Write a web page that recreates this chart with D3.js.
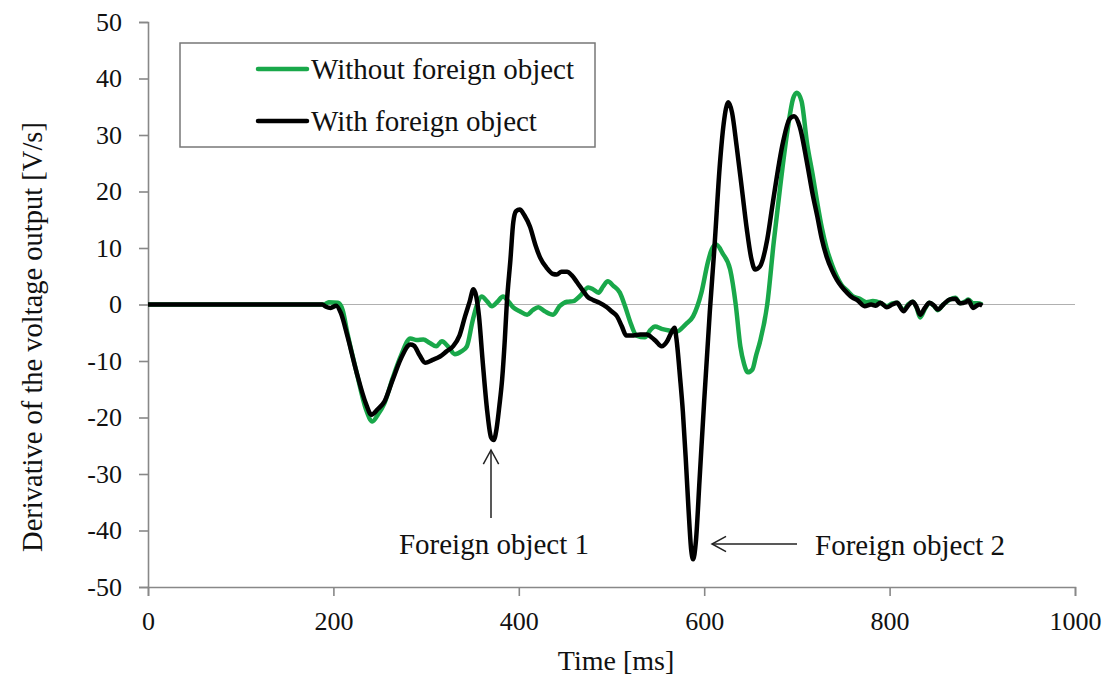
<!DOCTYPE html>
<html>
<head>
<meta charset="utf-8">
<script src="https://cdn.jsdelivr.net/npm/d3@7"></script>
<style>
  body { margin: 0; background: #fff; }
  text { font-family: "Liberation Serif", "Times New Roman", serif; fill: #111; }
</style>
</head>
<body>
<div id="chart"></div>
<script>
// time [ms] and derivative [V/s]
var withoutT = [0, 190, 195, 205, 210, 215, 225, 235, 242, 248, 255, 264, 273, 283, 290, 297, 304, 311, 317, 324, 331, 338, 344, 350, 355, 360, 366, 371, 377, 383, 389, 394, 401, 409, 415, 421, 428, 437, 444, 452, 459, 466, 475, 480, 486, 491, 496, 502, 509, 515, 520, 527, 536, 542, 547, 554, 562, 570, 580, 588, 597, 604, 608, 613, 620, 628, 634, 639, 643, 647, 652, 656, 660, 668, 675, 682, 690, 696, 700, 705, 711, 717, 722, 727, 732, 738, 743, 748, 754, 760, 768, 775, 782, 790, 797, 803, 808, 815, 820, 825, 829, 833, 838, 843, 848, 852, 858, 865, 871, 876, 882, 885, 890, 895, 900];
var withoutV = [0, 0, 0.4, 0.3, -1, -5, -12, -18.5, -20.7, -19.5, -17.5, -13, -9, -6, -6.3, -6.2, -6.8, -7.4, -6.5, -7.5, -8.8, -8.3, -7.4, -3, 0, 1.4, 0.5, -0.3, 0.5, 1.4, 0.5, -0.5, -1.2, -1.8, -1, -0.5, -1.2, -1.8, -0.3, 0.5, 0.6, 1.5, 3.0, 2.7, 2.1, 3.2, 4.1, 3.3, 2.1, -0.5, -3, -5.5, -5.8, -4.5, -3.9, -4.3, -4.6, -4.8, -3.5, -2.1, 2.1, 7.5, 9.7, 10.6, 9, 6.2, 0, -7.4, -10.5, -12, -11.5, -9, -6.7, 0, 11, 20.9, 31, 36.5, 37.5, 36, 28.5, 23, 18, 13.5, 10, 7, 5, 3.5, 2.5, 1.5, 1, 0.4, 0.6, 0.3, -0.3, 0.2, 0.3, -1, 0, 0.5, -0.5, -2.3, -0.8, 0.3, -0.3, -1, 0, 0.9, 1.2, 0.2, 0.6, 0.9, 0.2, 0.2, 0];

var withT = [0, 188, 192, 197, 203, 208, 215, 225, 235, 241, 248, 255, 264, 273, 283, 287, 293, 299, 307, 315, 322, 329, 336, 342, 347, 351, 354, 357, 361, 366, 370, 373, 376, 379, 382, 385, 387, 391, 394, 397, 401, 406, 412, 418, 423, 430, 437, 441, 446, 452, 457, 463, 469, 474, 480, 487, 495, 500, 506, 511, 516, 522, 531, 538, 543, 548, 554, 560, 565, 568, 570, 574, 577, 580, 583, 586, 588, 591, 595, 600, 606, 611, 617, 621, 626, 630, 635, 641, 646, 651, 655, 660, 668, 674, 685, 692, 697, 703, 711, 717, 722, 727, 732, 738, 743, 748, 754, 760, 765, 773, 780, 785, 790, 797, 803, 808, 815, 820, 825, 829, 833, 838, 843, 848, 852, 858, 865, 871, 876, 882, 885, 890, 894, 897, 900];
var withV = [0, 0, -0.4, -0.6, -0.2, -1.5, -5.5, -12, -17.5, -19.5, -18.5, -17.2, -13.3, -9.5, -7.1, -7.3, -9, -10.3, -9.8, -9.2, -8.3, -7.4, -5.5, -2.1, 0.5, 2.7, 1.5, -2, -10, -19, -23.5, -24, -22, -18, -13.3, -6, 0, 8, 14.5, 16.5, 16.8, 15.8, 13.8, 10.5, 8.3, 6.5, 5.4, 5.3, 5.8, 5.8, 5.2, 3.9, 2.5, 1.4, 0.8, 0.3, -0.5, -1.2, -2.1, -3.8, -5.5, -5.5, -5.3, -5.3, -5.8, -6.5, -7.4, -6.5, -4.8, -4.1, -6, -13, -19, -27, -36, -43.5, -45.1, -42, -31, -17, -1.4, 10, 25, 32, 35.8, 34, 28, 20, 13.3, 8, 6.2, 6.7, 11.5, 18, 28.7, 32.8, 33.3, 31.5, 25, 19.5, 15.6, 11.5, 8.5, 6, 4.4, 3.2, 2.1, 1.2, 0.8, -0.3, 0, -0.2, 0.3, -0.5, 0, 0.3, -1.2, -0.2, 0.5, -0.4, -1.8, -0.6, 0.3, -0.2, -0.9, 0, 0.9, 1.0, 0.2, 0.4, 0.7, -0.6, -0.2, 0, -0.2];

var xTicks = [0, 200, 400, 600, 800, 1000];
var yTicks = [-50, -40, -30, -20, -10, 0, 10, 20, 30, 40, 50];
var seriesNames = ["Without foreign object", "With foreign object"];
var seriesColors = ["#19a84a", "#000000"];

var width = 1107, height = 677;
var svg = d3.select("#chart").append("svg")
  .attr("width", width).attr("height", height);

var x = d3.scaleLinear().domain([0, 1000]).range([148, 1075]);
var y = d3.scaleLinear().domain([-50, 50]).range([587, 22]);

// zero reference line
svg.append("line")
  .attr("x1", x(0)).attr("x2", x(1000))
  .attr("y1", y(0)).attr("y2", y(0))
  .attr("stroke", "#b0b0b0").attr("stroke-width", 1.2);

// axes (plain hyphen minus, no thousands separator)
var fmt = function(d) { return String(d); };
var xAxis = svg.append("g").attr("transform", "translate(0," + y(-50) + ")")
  .call(d3.axisBottom(x).tickValues(xTicks).tickFormat(fmt).tickSize(9).tickSizeOuter(9).tickPadding(16));
var yAxis = svg.append("g").attr("transform", "translate(" + x(0) + ",0)")
  .call(d3.axisLeft(y).tickValues(yTicks).tickFormat(fmt).tickSize(9).tickSizeOuter(9).tickPadding(17));
[xAxis, yAxis].forEach(function(a) {
  a.attr("font-family", null);
  a.selectAll("path, line").attr("stroke", "#888").attr("stroke-width", 1.6);
  a.selectAll("text").style("font-family", "'Liberation Serif', serif")
    .style("font-size", "26px").attr("fill", "#111");
});

var line = d3.line().curve(d3.curveMonotoneX)
  .x(function(d) { return x(d[0]); })
  .y(function(d) { return y(d[1]); });

var series = [d3.zip(withoutT, withoutV), d3.zip(withT, withV)];
series.forEach(function(s, i) {
  svg.append("path").datum(s)
    .attr("fill", "none")
    .attr("stroke", seriesColors[i])
    .attr("stroke-width", 4.5)
    .attr("stroke-linejoin", "round")
    .attr("d", line);
});

// axis titles
svg.append("text").attr("x", 616).attr("y", 670)
  .attr("text-anchor", "middle").style("font-size", "28px").text("Time [ms]");
svg.append("text")
  .attr("transform", "translate(42,337) rotate(-90)")
  .attr("text-anchor", "middle").style("font-size", "28.5px")
  .text("Derivative of the voltage output [V/s]");

// legend
svg.append("rect").attr("x", 180).attr("y", 43).attr("width", 415).attr("height", 104)
  .attr("fill", "#fff").attr("stroke", "#777").attr("stroke-width", 1.5);
seriesNames.forEach(function(name, i) {
  var ly = 69 + i * 52;
  svg.append("line").attr("x1", 258).attr("x2", 307).attr("y1", ly).attr("y2", ly)
    .attr("stroke", seriesColors[i]).attr("stroke-width", 4.5).attr("stroke-linecap", "round");
  svg.append("text").attr("x", 311).attr("y", ly + 10).style("font-size", "29px").text(name);
});

// annotations
function arrow(x1, y1, x2, y2) {
  svg.append("line").attr("x1", x1).attr("y1", y1).attr("x2", x2).attr("y2", y2)
    .attr("stroke", "#222").attr("stroke-width", 1.5);
  var a = Math.atan2(y2 - y1, x2 - x1);
  var len = 16, spread = 0.5;
  var p = [[x2 - len * Math.cos(a - spread), y2 - len * Math.sin(a - spread)],
           [x2, y2],
           [x2 - len * Math.cos(a + spread), y2 - len * Math.sin(a + spread)]];
  svg.append("path").attr("d", d3.line()(p)).attr("fill", "none")
    .attr("stroke", "#222").attr("stroke-width", 1.5);
}
arrow(491, 518, 491, 450);
svg.append("text").attr("x", 494).attr("y", 554).attr("text-anchor", "middle")
  .style("font-size", "29px").text("Foreign object 1");
arrow(797, 544, 712, 544);
svg.append("text").attr("x", 815).attr("y", 555)
  .style("font-size", "29px").text("Foreign object 2");
</script>
</body>
</html>
